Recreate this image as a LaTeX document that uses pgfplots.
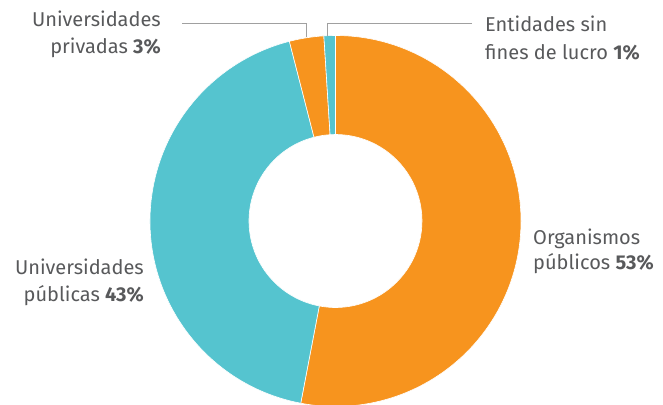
\documentclass[border=0pt]{standalone}
\usepackage{fontspec}
\setmainfont{Fira Sans}
\usepackage{pgfplots}
\usepackage{pgfplotstable}
\pgfplotsset{compat=1.18}
\definecolor{corange}{RGB}{247,148,30}
\definecolor{ccyan}{RGB}{85,196,207}
\definecolor{ctext}{RGB}{88,89,91}
\definecolor{cline}{RGB}{160,160,160}

\pgfplotstableread{
label value
Organismos 53
UPublicas 43
UPrivadas 3
Entidades 1
}\datatable

\begin{document}
\begin{tikzpicture}
\pgfplotstablegetelem{0}{value}\of\datatable \let\vA\pgfplotsretval
\pgfplotstablegetelem{1}{value}\of\datatable \let\vB\pgfplotsretval
\pgfplotstablegetelem{2}{value}\of\datatable \let\vC\pgfplotsretval
\pgfplotstablegetelem{3}{value}\of\datatable \let\vD\pgfplotsretval
\pgfmathsetmacro\aA{90}
\pgfmathsetmacro\aB{\aA-3.6*\vA}
\pgfmathsetmacro\aC{\aB-3.6*\vB}
\pgfmathsetmacro\aD{\aC-3.6*\vC}
\pgfmathsetmacro\aE{\aD-3.6*\vD}
\def\R{185.5bp}
\def\r{86.5bp}
\def\cx{335.5}
\def\cy{184}
\newcommand\donutwedge[3]{%
  \fill[#1, draw=white, line width=0.6bp] ([shift={(#2:\R)}]axis cs:\cx,\cy) arc[start angle=#2, end angle=#3, radius=\R]
   -- ([shift={(#3:\r)}]axis cs:\cx,\cy) arc[start angle=#3, end angle=#2, radius=\r] -- cycle;}
\begin{axis}[width=663bp, height=405bp, scale only axis,
  xmin=0, xmax=663, ymin=0, ymax=405, hide axis, clip=false]
\donutwedge{corange}{\aA}{\aB}
\donutwedge{ccyan}{\aB}{\aC}
\donutwedge{corange}{\aC}{\aD}
\donutwedge{ccyan}{\aD}{\aE}
\draw[cline, line width=1bp] (axis cs:182,381) -- (axis cs:306,381) -- (axis cs:306,368);
\draw[cline, line width=1bp] (axis cs:472,381) -- (axis cs:327.3,381) -- (axis cs:327.3,369);
\tikzset{lab/.style={text=ctext, inner sep=0pt, font=\fontsize{20bp}{24bp}\selectfont}}
\node[lab, anchor=base east] at (axis cs:161,378) {Universidades};
\node[lab, anchor=base east] at (axis cs:161,351) {privadas \textbf{3\%}};
\node[lab, anchor=base west] at (axis cs:485,373) {Entidades sin};
\node[lab, anchor=base west] at (axis cs:485,345) {fines de lucro \textbf{1\%}};
\node[lab, anchor=base west] at (axis cs:533,160) {Organismos};
\node[lab, anchor=base west] at (axis cs:533,135) {públicos \textbf{53\%}};
\node[lab, anchor=base east] at (axis cs:144,130) {Universidades};
\node[lab, anchor=base east] at (axis cs:144,103) {públicas \textbf{43\%}};
\end{axis}
\pgfresetboundingbox
\path (current axis.south west) rectangle (current axis.north east);
\end{tikzpicture}
\end{document}
